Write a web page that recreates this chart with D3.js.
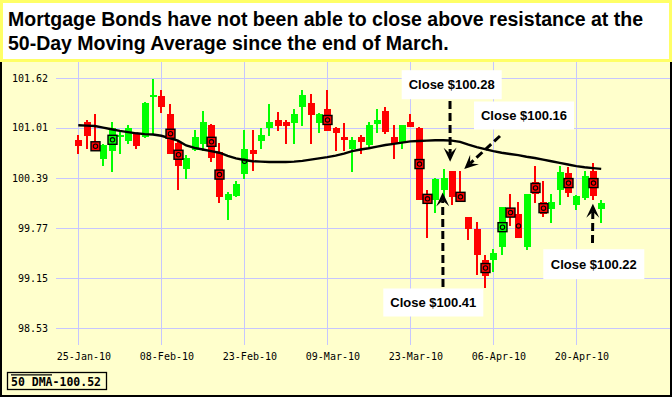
<!DOCTYPE html>
<html>
<head>
<meta charset="utf-8">
<script src="https://cdn.jsdelivr.net/npm/d3@7"></script>
<style>
  html, body { margin: 0; padding: 0; background: #fff; }
  svg { display: block; }
</style>
</head>
<body>
<div id="chart"></div>
<script>
// ---- data ----
const title1 = "Mortgage Bonds have not been able to close above resistance at the"
const title2 = "50-Day Moving Average since the end of March."

const yTicks = [101.62, 101.01, 100.39, 99.77, 99.15, 98.53]

const opens  = [100.86, 101.08, 100.82, 100.62, 100.72, 100.90, 100.84, 100.93, 100.90, 101.40,
                101.40, 101.18, 100.82, 100.50, 100.73, 100.81, 101.04, 100.71, 100.11, 100.17,
                100.44, 100.73, 100.84, 101.01, 101.10, 101.08, 101.07, 101.26, 101.32, 101.07,
                101.24, 101.01, 100.90, 100.74, 100.89, 100.79, 101.06, 101.21, 100.90, 100.83,
                101.08, 101.01, 100.17, 100.12, 100.24, 100.47, 100.19, 99.90, 99.76, 99.37,
                99.38, 99.53, 100.02, 99.94, 99.53, 100.34, 100.09, 100.01, 100.24, 100.45,
                100.06, 100.14, 100.48, 100.00]
const highs  = [100.92, 101.10, 101.18, 100.81, 101.08, 100.96, 101.04, 100.95, 101.33, 101.61,
                101.47, 101.30, 100.84, 100.67, 100.98, 101.21, 101.05, 100.82, 100.22, 100.35,
                100.98, 100.98, 101.01, 101.30, 101.20, 101.10, 101.24, 101.47, 101.43, 101.19,
                101.47, 101.02, 101.07, 100.90, 100.92, 101.08, 101.24, 101.26, 101.04, 101.04,
                101.18, 101.02, 100.24, 100.39, 100.50, 100.47, 100.47, 99.90, 99.84, 99.43,
                99.51, 100.03, 100.19, 100.09, 100.19, 100.53, 100.35, 100.19, 100.53, 100.52,
                100.18, 100.47, 100.57, 100.12]
const lows   = [100.68, 100.74, 100.72, 100.53, 100.46, 100.69, 100.81, 100.74, 100.88, 100.92,
                101.19, 100.68, 100.24, 100.38, 100.72, 100.72, 100.59, 100.08, 99.87, 100.15,
                100.38, 100.48, 100.74, 100.91, 100.97, 100.81, 100.81, 101.03, 100.81, 100.95,
                100.97, 100.72, 100.72, 100.46, 100.68, 100.75, 100.95, 100.93, 100.62, 100.75,
                101.02, 100.11, 99.65, 99.95, 100.11, 100.05, 100.11, 99.62, 99.19, 99.03,
                99.22, 99.44, 99.80, 99.65, 99.50, 100.08, 99.90, 99.83, 100.06, 100.15,
                99.99, 100.11, 100.11, 99.83]
const closes = [100.78, 100.91, 100.74, 100.79, 101.00, 100.92, 101.01, 100.78, 101.31, 101.41,
                101.26, 100.69, 100.53, 100.63, 100.90, 101.08, 100.63, 100.15, 100.19, 100.31,
                100.75, 100.68, 100.92, 101.08, 101.03, 101.03, 101.18, 101.41, 101.17, 101.18,
                100.97, 100.95, 100.86, 100.86, 100.83, 101.04, 101.11, 100.96, 100.82, 101.04,
                101.02, 100.11, 100.09, 100.37, 100.39, 100.15, 100.12, 99.76, 99.43, 99.18,
                99.46, 100.03, 99.90, 99.65, 100.19, 100.19, 99.94, 100.09, 100.46, 100.20,
                100.16, 100.41, 100.17, 100.08]
const dma50  = [101.04, 101.035, 101.03, 101.01, 100.99, 100.97, 100.955, 100.94, 100.93, 100.925,
                100.91, 100.88, 100.85, 100.79, 100.76, 100.74, 100.72, 100.70, 100.66, 100.63,
                100.61, 100.595, 100.59, 100.585, 100.585, 100.585, 100.59, 100.60, 100.615, 100.63,
                100.645, 100.665, 100.69, 100.72, 100.74, 100.755, 100.775, 100.795, 100.81, 100.825,
                100.84, 100.845, 100.85, 100.855, 100.855, 100.85, 100.835, 100.80, 100.77, 100.745,
                100.72, 100.70, 100.685, 100.67, 100.65, 100.635, 100.615, 100.595, 100.575, 100.555,
                100.535, 100.52, 100.51, 100.50]

// candles flagged with a boxed marker, and with a plain dot marker
const boxMarks = [2, 4, 11, 12, 16, 17, 30, 41, 42, 46, 49, 51, 52, 55, 56, 59, 62]
const dotMarks = [20, 53]

const legendText = "50 DMA-100.52"

// callouts: label, arrow tip (trading day index, price)
const notes = [
    { label: "Close $100.28", i: 44.8, v: 100.59 },
    { label: "Close $100.16", i: 46.5, v: 100.50 },
    { label: "Close $100.41", i: 43.9, v: 100.21 },
    { label: "Close $100.22", i: 62.0, v: 100.07 }
]

// trading days from 25-Jan-2010, Presidents Day closed
const holidays = ["2010-02-15"]
const fmtIso = d3.timeFormat("%Y-%m-%d")
const dates = d3.timeDay.range(new Date(2010, 0, 25), new Date(2010, 3, 24))
    .filter(d => d.getDay() !== 0 && d.getDay() !== 6 && !holidays.includes(fmtIso(d)))
    .slice(0, closes.length)

const fmtTick = d3.timeFormat("%d-%b-%y")

// ---- drawing ----
const width = 672
const height = 397
const monoFont = "'DejaVu Sans Mono', 'Liberation Mono', monospace"
const sansFont = "'Liberation Sans', Arial, sans-serif"

const x = d3.scaleLinear()
    .domain([0, 63])
    .range([78.3, 601.2])

const y = d3.scaleLinear()
    .domain([98.53, 101.62])
    .range([328.3, 78.3])

const svg = d3.select("#chart")
    .append("svg")
    .attr("width", width)
    .attr("height", height)

svg.append("rect")
    .attr("x", 1).attr("y", 1)
    .attr("width", width - 2).attr("height", height - 2)
    .attr("fill", "#ffffcc")
    .attr("stroke", "#000")
    .attr("stroke-width", 2)

// grid
const grid = svg.append("g")
    .attr("stroke", "#c6c6ff")
    .attr("stroke-width", 1)
    .attr("shape-rendering", "crispEdges")

grid.selectAll(".h")
    .data(yTicks)
    .enter()
    .append("line")
        .attr("x1", 56).attr("x2", width - 2)
        .attr("y1", d => Math.round(y(d)) + 0.5)
        .attr("y2", d => Math.round(y(d)) + 0.5)

const xTickIdx = d3.range(0, dates.length, 10)

grid.selectAll(".v")
    .data(xTickIdx)
    .enter()
    .append("line")
        .attr("x1", d => Math.round(x(d)) + 0.5)
        .attr("x2", d => Math.round(x(d)) + 0.5)
        .attr("y1", 62).attr("y2", 345)

// axis labels
svg.append("g")
    .selectAll("text")
    .data(yTicks)
    .enter()
    .append("text")
        .attr("x", 48)
        .attr("y", d => y(d) + 3.8)
        .attr("text-anchor", "end")
        .attr("font-family", monoFont)
        .attr("font-size", 10)
        .attr("fill", "#000")
        .text(d => d.toFixed(2))

svg.append("g")
    .selectAll("text")
    .data(xTickIdx)
    .enter()
    .append("text")
        .attr("x", d => x(d) + 5.6)
        .attr("y", 359.5)
        .attr("text-anchor", "middle")
        .attr("font-family", monoFont)
        .attr("font-size", 10)
        .attr("fill", "#000")
        .text(d => fmtTick(dates[d]))

// candles
const candles = closes.map((c, i) => ({
    i: i, open: opens[i], high: highs[i], low: lows[i], close: c,
    color: c >= opens[i] ? "#00ff00" : "#ff0000"
}))

const cg = svg.append("g").attr("shape-rendering", "crispEdges")

cg.selectAll(".wick")
    .data(candles)
    .enter()
    .append("rect")
        .attr("x", d => Math.round(x(d.i)) - 1)
        .attr("y", d => y(d.high))
        .attr("width", 2)
        .attr("height", d => y(d.low) - y(d.high))
        .attr("fill", d => d.color)

cg.selectAll(".body")
    .data(candles)
    .enter()
    .append("rect")
        .attr("x", d => Math.round(x(d.i)) - 3)
        .attr("y", d => y(Math.max(d.open, d.close)))
        .attr("width", 7)
        .attr("height", d => Math.max(2, Math.abs(y(d.open) - y(d.close))))
        .attr("fill", d => d.color)

// 50 day moving average
const line = d3.line()
    .x((d, i) => x(i))
    .y(d => y(d))

svg.append("path")
    .datum(dma50)
    .attr("d", line)
    .attr("fill", "none")
    .attr("stroke", "#000")
    .attr("stroke-width", 2.4)

// markers at body middle
const mid = d => y((d.open + d.close) / 2)

const mg = svg.append("g")
mg.selectAll(".box")
    .data(boxMarks.map(i => candles[i]))
    .enter()
    .append("rect")
        .attr("x", d => Math.round(x(d.i)) - 4)
        .attr("y", d => mid(d) - 4.5)
        .attr("width", 9)
        .attr("height", 9)
        .attr("fill", d => d.color)
        .attr("stroke", "#000")
        .attr("stroke-width", 1.4)

mg.selectAll(".dot")
    .data(boxMarks.concat(dotMarks).map(i => candles[i]))
    .enter()
    .append("circle")
        .attr("cx", d => Math.round(x(d.i)) + 0.5)
        .attr("cy", d => mid(d))
        .attr("r", 2.2)
        .attr("fill", "none")
        .attr("stroke", "#000")
        .attr("stroke-width", 1.1)

// callouts
const boxes = [
    { cx: 451.7, cy: 84.7, w: 100, h: 29, from: [450, 101] },
    { cx: 524, cy: 115.5, w: 100, h: 28, from: [500, 136] },
    { cx: 433.3, cy: 302.5, w: 100, h: 28, from: [443, 287] },
    { cx: 593.8, cy: 264.2, w: 101, h: 30, from: [592.5, 243] }
]

const ng = svg.append("g")

notes.forEach((n, k) => {
    const b = boxes[k]
    ng.append("rect")
        .attr("x", b.cx - b.w / 2)
        .attr("y", b.cy - b.h / 2)
        .attr("width", b.w)
        .attr("height", b.h)
        .attr("fill", "#fff")
    ng.append("text")
        .attr("x", b.cx)
        .attr("y", b.cy + 4.6)
        .attr("text-anchor", "middle")
        .attr("font-family", sansFont)
        .attr("font-weight", "bold")
        .attr("font-size", 13)
        .attr("fill", "#000")
        .text(n.label)

    const tx = x(n.i), ty = y(n.v)
    const [fx, fy] = b.from
    const ang = Math.atan2(ty - fy, tx - fx)
    const ux = Math.cos(ang), uy = Math.sin(ang)
    const len = 14, half = 6.5, notch = 8
    ng.append("line")
        .attr("x1", fx).attr("y1", fy)
        .attr("x2", tx - ux * notch).attr("y2", ty - uy * notch)
        .attr("stroke", "#000")
        .attr("stroke-width", 3)
        .attr("stroke-dasharray", "8,4")
    const pts = [
        [tx, ty],
        [tx - ux * len - uy * half, ty - uy * len + ux * half],
        [tx - ux * notch, ty - uy * notch],
        [tx - ux * len + uy * half, ty - uy * len - ux * half]
    ]
    ng.append("path")
        .attr("d", "M" + pts.join("L") + "Z")
        .attr("fill", "#000")
})

// legend
const lg = svg.append("g")
lg.append("rect")
    .attr("x", 7.5).attr("y", 372.5)
    .attr("width", 99).attr("height", 17)
    .attr("fill", "none")
    .attr("stroke", "#000")
    .attr("stroke-width", 1.3)
lg.append("line")
    .attr("x1", 11).attr("x2", 52)
    .attr("y1", 374.8).attr("y2", 374.8)
    .attr("stroke", "#000")
    .attr("stroke-width", 1.2)
lg.append("text")
    .attr("x", 11)
    .attr("y", 386)
    .attr("font-family", monoFont)
    .attr("font-weight", "bold")
    .attr("font-size", 11.5)
    .attr("fill", "#000")
    .text(legendText)

// title panel
svg.append("rect")
    .attr("x", 1.5).attr("y", 1.5)
    .attr("width", width - 3).attr("height", 59)
    .attr("fill", "#fff")
    .attr("stroke", "#ffff66")
    .attr("stroke-width", 3)

svg.append("g")
    .selectAll("text")
    .data([title1, title2])
    .enter()
    .append("text")
        .attr("x", 8)
        .attr("y", (d, i) => 26 + i * 24)
        .attr("font-family", sansFont)
        .attr("font-weight", "bold")
        .attr("font-size", 19.5)
        .attr("fill", "#000")
        .text(d => d)
</script>
</body>
</html>
